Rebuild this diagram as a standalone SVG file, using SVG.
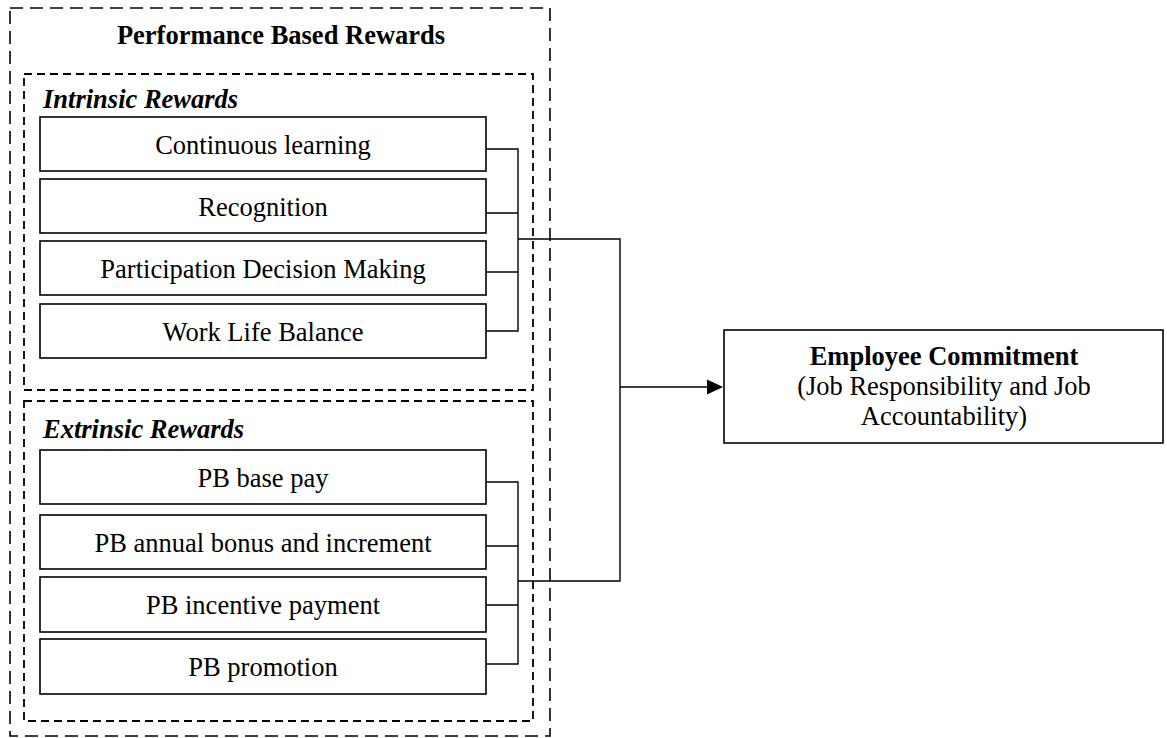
<svg xmlns="http://www.w3.org/2000/svg" width="1167" height="738" viewBox="0 0 1167 738">
  <defs>
    <style>
      .txt { font-family: "Liberation Serif", "Times New Roman", serif; font-size: 26.5px; fill: #000; }
      .c { text-anchor: middle; }
      .b { font-weight: bold; }
      .bi { font-weight: bold; font-style: italic; }
      .box { fill: #fff; stroke: #000; stroke-width: 1.6; }
      .outer { fill: none; stroke: #000; stroke-width: 1.6; stroke-dasharray: 13 7; }
      .inner { fill: none; stroke: #000; stroke-width: 1.8; stroke-dasharray: 8 5; }
      .wire { fill: none; stroke: #000; stroke-width: 1.4; }
    </style>
  </defs>
  <rect width="1167" height="738" fill="#fff"/>

  <!-- Performance Based Rewards frame -->
  <g id="performance-based-rewards">
    <rect class="outer" x="10" y="8" width="540" height="728"/>
    <text class="txt b c" x="281" y="44">Performance Based Rewards</text>
  </g>

  <!-- Intrinsic rewards group -->
  <g id="intrinsic-rewards">
    <rect class="inner" x="24" y="74" width="509" height="316"/>
    <text class="txt bi" x="43" y="108">Intrinsic Rewards</text>
  </g>
  <g id="continuous-learning">
    <rect class="box" x="40" y="117" width="446" height="54"/>
    <text class="txt c" x="263" y="154">Continuous learning</text>
  </g>
  <g id="recognition">
    <rect class="box" x="40" y="179" width="446" height="54"/>
    <text class="txt c" x="263" y="216">Recognition</text>
  </g>
  <g id="participation-decision-making">
    <rect class="box" x="40" y="241" width="446" height="54"/>
    <text class="txt c" x="263" y="278">Participation Decision Making</text>
  </g>
  <g id="work-life-balance">
    <rect class="box" x="40" y="304" width="446" height="54"/>
    <text class="txt c" x="263" y="341">Work Life Balance</text>
  </g>

  <!-- Extrinsic rewards group -->
  <g id="extrinsic-rewards">
    <rect class="inner" x="24" y="401" width="509" height="320"/>
    <text class="txt bi" x="43" y="438">Extrinsic Rewards</text>
  </g>
  <g id="pb-base-pay">
    <rect class="box" x="40" y="450" width="446" height="54"/>
    <text class="txt c" x="263" y="487">PB base pay</text>
  </g>
  <g id="pb-annual-bonus">
    <rect class="box" x="40" y="515" width="446" height="54"/>
    <text class="txt c" x="263" y="552">PB annual bonus and increment</text>
  </g>
  <g id="pb-incentive-payment">
    <rect class="box" x="40" y="577" width="446" height="55"/>
    <text class="txt c" x="263" y="614">PB incentive payment</text>
  </g>
  <g id="pb-promotion">
    <rect class="box" x="40" y="639" width="446" height="55"/>
    <text class="txt c" x="263" y="676">PB promotion</text>
  </g>

  <!-- Outcome -->
  <g id="employee-commitment">
    <rect class="box" x="724" y="330" width="439" height="113"/>
    <text class="txt b c" x="944" y="365">Employee Commitment</text>
    <text class="txt c" x="944" y="395">(Job Responsibility and Job</text>
    <text class="txt c" x="944" y="425">Accountability)</text>
  </g>

  <!-- Connectors -->
  <g id="connectors">
    <path class="wire" d="M486 149 H518 V331 H486 M486 213 H518 M486 272 H518"/>
    <path class="wire" d="M486 482 H518 V664 H486 M486 546 H518 M486 605 H518"/>
    <path class="wire" d="M518 239 H620 V581 H518"/>
    <path class="wire" d="M620 387 H708"/>
    <polygon points="707,379.5 723,387 707,394.5" fill="#000"/>
  </g>
</svg>
